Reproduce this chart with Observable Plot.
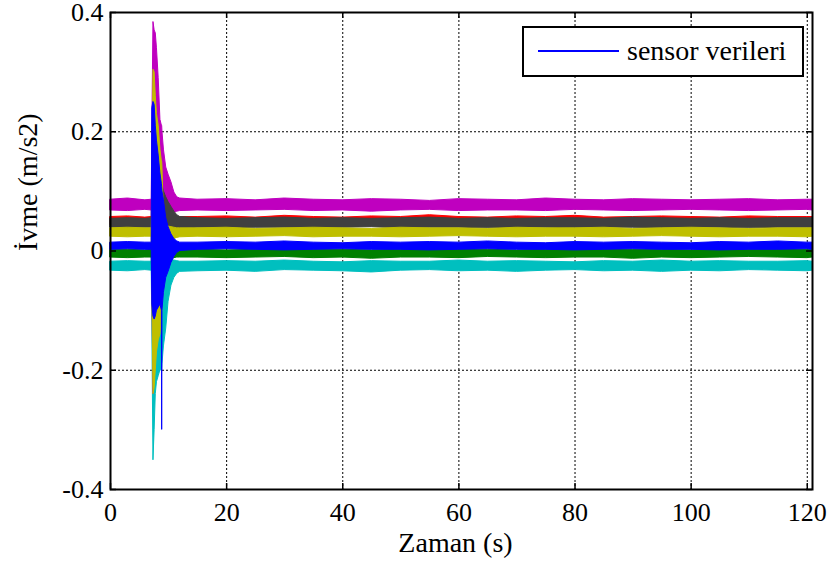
<!DOCTYPE html>
<html>
<head>
<meta charset="utf-8">
<script src="https://cdn.jsdelivr.net/npm/d3@7"></script>
<script src="https://cdn.jsdelivr.net/npm/@observablehq/plot@0.6"></script>
<style>
  html, body { margin: 0; padding: 0; background: white; }
  #wrap { position: relative; width: 835px; height: 570px; font-family: "Liberation Serif", "Times New Roman", serif; color: black; }
  #legend { position: absolute; left: 522px; top: 26px; width: 282px; height: 51px; box-sizing: border-box;
            border: 2px solid black; background: white; }
  #legend .sw { position: absolute; left: 14px; top: 22px; width: 81px; height: 2px; background: #0000ff; }
  #legend .lb { position: absolute; left: 103px; top: 0; line-height: 45px; font-size: 28px; white-space: nowrap; }
</style>
</head>
<body>
<div id="wrap"><div id="legend"><div class="sw"></div><div class="lb">sensor verileri</div></div></div>
<script>
// Time stamps (s): before the shock, the shock (7.2–12 s), then steady state
const time = [0, 3, 6, 7.1,
  7.2, 7.4, 7.6, 7.8, 8.0, 8.3, 8.6, 8.85, 8.9, 8.95, 9.2, 9.6, 10.0, 10.5, 11.0, 11.5, 12.0,
  15, 20, 25, 30, 35, 40, 45, 50, 55, 60, 65, 70, 75, 80, 85, 90, 95, 100, 105, 110, 115, 120, 120.9];

// Upper / lower envelope of each sensor trace (m/s2)
const cyanHi = [-0.018, -0.017, -0.018, -0.018,
  0.03, 0.15, 0.12, 0.10, 0.08, 0.06, 0.04, 0.03, 0.03, 0.02, 0.0, -0.01, -0.012, -0.015, -0.016, -0.017, -0.018,
  -0.018, -0.017, -0.018, -0.016, -0.018, -0.019, -0.017, -0.018, -0.018, -0.016, -0.018, -0.017, -0.018, -0.019, -0.017, -0.018, -0.016, -0.018, -0.017, -0.018, -0.018, -0.017, -0.018];
const cyanLo = [-0.033, -0.034, -0.032, -0.033,
  -0.12, -0.351, -0.30, -0.24, -0.22, -0.21, -0.20, -0.20, -0.20, -0.19, -0.16, -0.13, -0.085, -0.058, -0.045, -0.038, -0.035,
  -0.034, -0.033, -0.035, -0.032, -0.033, -0.034, -0.036, -0.033, -0.032, -0.034, -0.033, -0.035, -0.033, -0.032, -0.034, -0.033, -0.035, -0.033, -0.034, -0.032, -0.033, -0.034, -0.033];

const magentaHi = [0.086, 0.088, 0.085, 0.086,
  0.20, 0.384, 0.37, 0.365, 0.34, 0.29, 0.22, 0.21, 0.21, 0.20, 0.17, 0.14, 0.128, 0.115, 0.098, 0.09, 0.088,
  0.086, 0.087, 0.085, 0.088, 0.086, 0.085, 0.087, 0.086, 0.084, 0.087, 0.086, 0.085, 0.088, 0.086, 0.085, 0.087, 0.086, 0.085, 0.086, 0.087, 0.085, 0.086, 0.086];
const magentaLo = [0.068, 0.067, 0.069, 0.068,
  -0.05, -0.24, -0.20, -0.15, -0.10, -0.05, -0.02, 0.0, 0.0, 0.0, 0.02, 0.04, 0.05, 0.06, 0.064, 0.066, 0.067,
  0.068, 0.067, 0.068, 0.069, 0.067, 0.068, 0.066, 0.068, 0.069, 0.067, 0.068, 0.068, 0.067, 0.069, 0.068, 0.067, 0.068, 0.069, 0.068, 0.067, 0.068, 0.069, 0.068];

const redHi = [0.057, 0.058, 0.056, 0.057,
  0.06, 0.07, 0.07, 0.068, 0.066, 0.064, 0.062, 0.06, 0.06, 0.06, 0.059, 0.058, 0.058, 0.057, 0.057, 0.057, 0.057,
  0.057, 0.058, 0.056, 0.059, 0.057, 0.056, 0.058, 0.057, 0.06, 0.057, 0.056, 0.058, 0.057, 0.059, 0.056, 0.057, 0.058, 0.057, 0.056, 0.058, 0.057, 0.057, 0.057];
const redLo = [0.043, 0.043, 0.043, 0.043,
  0.03, 0.02, 0.02, 0.025, 0.03, 0.032, 0.035, 0.037, 0.037, 0.038, 0.04, 0.04, 0.041, 0.042, 0.042, 0.043, 0.043,
  0.043, 0.043, 0.043, 0.043, 0.043, 0.043, 0.043, 0.043, 0.043, 0.043, 0.043, 0.043, 0.043, 0.043, 0.043, 0.043, 0.043, 0.043, 0.043, 0.043, 0.043, 0.043, 0.043];

const grayHi = [0.054, 0.055, 0.054, 0.055,
  0.12, 0.15, 0.148, 0.142, 0.138, 0.13, 0.122, 0.115, 0.112, 0.11, 0.10, 0.09, 0.082, 0.074, 0.066, 0.06, 0.057,
  0.055, 0.054, 0.055, 0.056, 0.054, 0.055, 0.054, 0.055, 0.056, 0.054, 0.055, 0.054, 0.055, 0.055, 0.054, 0.056, 0.055, 0.054, 0.055, 0.054, 0.055, 0.055, 0.055];
const grayLo = [0.039, 0.038, 0.039, 0.039,
  -0.06, -0.12, -0.12, -0.11, -0.10, -0.08, -0.06, -0.045, -0.045, -0.04, -0.03, -0.01, 0.01, 0.022, 0.03, 0.035, 0.037,
  0.039, 0.038, 0.039, 0.039, 0.038, 0.039, 0.04, 0.038, 0.039, 0.039, 0.038, 0.039, 0.039, 0.038, 0.039, 0.039, 0.038, 0.039, 0.039, 0.038, 0.039, 0.039, 0.039];

const yellowHi = [0.038, 0.039, 0.038, 0.038,
  0.10, 0.304, 0.30, 0.26, 0.23, 0.21, 0.17, 0.15, 0.15, 0.14, 0.06, 0.045, 0.041, 0.04, 0.039, 0.038, 0.038,
  0.038, 0.039, 0.037, 0.038, 0.039, 0.038, 0.037, 0.039, 0.038, 0.038, 0.037, 0.039, 0.038, 0.038, 0.039, 0.037, 0.038, 0.039, 0.038, 0.037, 0.038, 0.038, 0.038];
const yellowLo = [0.024, 0.023, 0.024, 0.024,
  -0.05, -0.24, -0.23, -0.20, -0.17, -0.15, -0.14, -0.11, -0.10, -0.09, -0.06, -0.03, 0.0, 0.015, 0.02, 0.022, 0.023,
  0.024, 0.023, 0.024, 0.025, 0.023, 0.024, 0.024, 0.023, 0.024, 0.025, 0.024, 0.023, 0.024, 0.024, 0.023, 0.024, 0.025, 0.024, 0.023, 0.024, 0.024, 0.023, 0.024];

const greenHi = [0.002, 0.002, 0.001, 0.002,
  0.03, 0.05, 0.05, 0.04, 0.035, 0.03, 0.025, 0.02, 0.02, 0.02, 0.015, 0.01, 0.008, 0.005, 0.003, 0.002, 0.002,
  0.002, 0.001, 0.002, 0.003, 0.002, 0.002, 0.001, 0.002, 0.002, 0.003, 0.002, 0.001, 0.002, 0.002, 0.003, 0.002, 0.002, 0.001, 0.002, 0.002, 0.003, 0.002, 0.002];
const greenLo = [-0.011, -0.012, -0.011, -0.011,
  -0.04, -0.06, -0.06, -0.05, -0.045, -0.04, -0.035, -0.03, -0.03, -0.03, -0.025, -0.02, -0.018, -0.015, -0.012, -0.011, -0.011,
  -0.011, -0.012, -0.011, -0.010, -0.012, -0.011, -0.013, -0.011, -0.011, -0.012, -0.010, -0.011, -0.012, -0.011, -0.011, -0.013, -0.011, -0.012, -0.011, -0.010, -0.011, -0.012, -0.011];

const blueHi = [0.014, 0.015, 0.014, 0.014,
  0.24, 0.25, 0.245, 0.21, 0.185, 0.16, 0.13, 0.112, 0.107, 0.10, 0.085, 0.055, 0.04, 0.028, 0.02, 0.016, 0.014,
  0.014, 0.015, 0.014, 0.016, 0.014, 0.013, 0.015, 0.014, 0.015, 0.014, 0.016, 0.014, 0.013, 0.015, 0.014, 0.015, 0.014, 0.013, 0.015, 0.014, 0.016, 0.014, 0.014];
const blueLo = [0.002, 0.003, 0.002, 0.002,
  -0.09, -0.11, -0.115, -0.11, -0.10, -0.095, -0.09, -0.10, -0.30, -0.10, -0.07, -0.045, -0.035, -0.02, -0.01, -0.003, 0.0,
  0.002, 0.003, 0.002, 0.001, 0.002, 0.003, 0.002, 0.002, 0.001, 0.002, 0.003, 0.002, 0.002, 0.001, 0.002, 0.003, 0.002, 0.002, 0.001, 0.002, 0.002, 0.003, 0.002];

// Drawing order (bottom to top) and MATLAB-style colours
const seriesNames = ["cyan", "magenta", "red", "gray", "yellow", "green", "blue"];
const seriesColors = ["#00bfbf", "#bf00bf", "#ff0000", "#404040", "#bfbf00", "#008000", "#0000ff"];
const seriesHi = [cyanHi, magentaHi, redHi, grayHi, yellowHi, greenHi, blueHi];
const seriesLo = [cyanLo, magentaLo, redLo, grayLo, yellowLo, greenLo, blueLo];

const xTicks = [0, 20, 40, 60, 80, 100, 120];
const yTicks = [-0.4, -0.2, 0, 0.2, 0.4];
const xLabel = "Zaman (s)";
const yLabel = "İvme (m/s2)";

const FONT = "Liberation Serif";
const W = 835, H = 570, mL = 110, mR = 23, mT = 12, mB = 81;
const innerW = W - mL - mR, innerH = H - mT - mB, tickLen = 6;

const bandMarks = seriesNames.map((name, k) => {
  const rows = time.map((t, i) => ({t, hi: seriesHi[k][i], lo: seriesLo[k][i]}));
  return Plot.areaY(rows, {x: "t", y1: "lo", y2: "hi", fill: seriesColors[k], fillOpacity: 1,
    stroke: seriesColors[k], strokeOpacity: 1, strokeWidth: 1});
});

const chart = Plot.plot({
  width: W, height: H,
  marginLeft: mL, marginRight: mR, marginTop: mT, marginBottom: mB,
  x: {domain: [0, 120.9], label: null},
  y: {domain: [-0.4, 0.4], label: null},
  style: {fontFamily: FONT, fontSize: "26px", color: "black", background: "white", overflow: "visible"},
  marks: [
    Plot.gridX(xTicks, {stroke: "black", strokeOpacity: 1, strokeWidth: 1, strokeDasharray: "2,2"}),
    Plot.gridY(yTicks, {stroke: "black", strokeOpacity: 1, strokeWidth: 1, strokeDasharray: "2,2"}),
    ...bandMarks,
    Plot.ruleX(xTicks, {x: d => d, insetTop: innerH - tickLen, stroke: "black", strokeWidth: 1.5}),
    Plot.ruleX(xTicks, {x: d => d, insetBottom: innerH - tickLen, stroke: "black", strokeWidth: 1.5}),
    Plot.ruleY(yTicks, {y: d => d, insetRight: innerW - tickLen, stroke: "black", strokeWidth: 1.5}),
    Plot.ruleY(yTicks, {y: d => d, insetLeft: innerW - tickLen, stroke: "black", strokeWidth: 1.5}),
    Plot.frame({stroke: "black", strokeWidth: 2}),
    Plot.axisX(xTicks, {tickSize: 0, tickPadding: 13, tickFormat: d => String(d), label: null, fontSize: 26, fontFamily: FONT, fill: "black"}),
    Plot.axisY(yTicks, {tickSize: 0, tickPadding: 7, tickFormat: d => String(d), label: null, fontSize: 26, fontFamily: FONT, fill: "black"}),
    Plot.text([xLabel], {text: d => d, frameAnchor: "bottom", lineAnchor: "top", dy: 43, dx: -6, fontSize: 28, fontFamily: FONT, fill: "black"}),
    Plot.text([yLabel], {text: d => d, frameAnchor: "left", rotate: -90, lineAnchor: "middle", dx: -82, fontSize: 28, fontFamily: FONT, fill: "black"})
  ]
});
const wrap = document.getElementById("wrap");
wrap.insertBefore(chart, wrap.firstChild);
</script>
</body>
</html>
